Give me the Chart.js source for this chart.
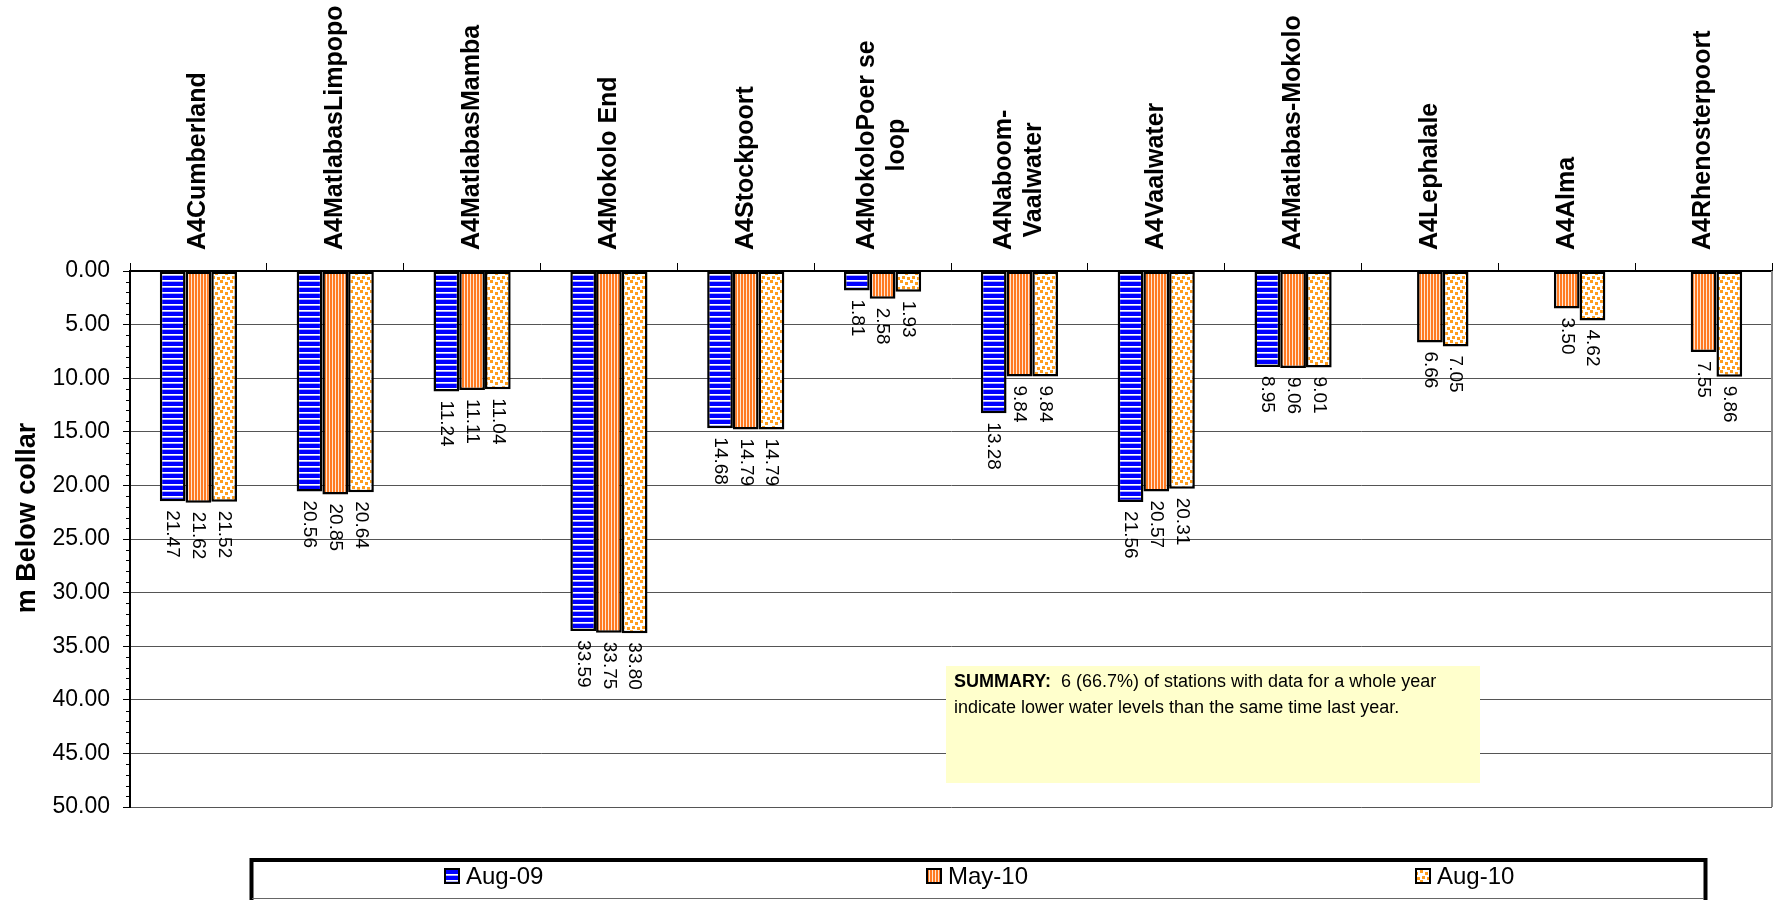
<!DOCTYPE html>
<html>
<head>
<meta charset="utf-8">
<script src="https://cdn.jsdelivr.net/npm/chart.js@4/dist/chart.umd.min.js"></script>
<style>
  html, body { margin: 0; padding: 0; background: #fff; }
</style>
</head>
<body>
<canvas id="myChart" width="1774" height="900"></canvas>
<script>
const stations = [
    'A4Cumberland',
    'A4MatlabasLimpopo',
    'A4MatlabasMamba',
    'A4Mokolo End',
    'A4Stockpoort',
    ['A4MokoloPoer se', 'loop'],
    ['A4Naboom-', 'Vaalwater'],
    'A4Vaalwater',
    'A4Matlabas-Mokolo',
    'A4Lephalale',
    'A4Alma',
    'A4Rhenosterpoort'
];
const seriesNames = ['Aug-09', 'May-10', 'Aug-10'];
const aug09 = [21.47, 20.56, 11.24, 33.59, 14.68, 1.81, 13.28, 21.56, 8.95, null, null, null];
const may10 = [21.62, 20.85, 11.11, 33.75, 14.79, 2.58, 9.84, 20.57, 9.06, 6.66, 3.50, 7.55];
const aug10 = [21.52, 20.64, 11.04, 33.80, 14.79, 1.93, 9.84, 20.31, 9.01, 7.05, 4.62, 9.86];
const yMin = 0, yMax = 50, yStep = 5;
const summaryBold = 'SUMMARY:';
const summaryLines = ['  6 (66.7%) of stations with data for a whole year',
                      'indicate lower water levels than the same time last year.'];

const FONT = '"Liberation Sans", Arial, sans-serif';

window.onload = function () {
    const ctx = document.getElementById('myChart').getContext('2d');

    function makePattern(w, h, draw) {
        const c = document.createElement('canvas');
        c.width = w; c.height = h;
        const g = c.getContext('2d');
        draw(g);
        return ctx.createPattern(c, 'repeat');
    }

    // blue with white horizontal stripes
    const patBlue = makePattern(6, 6, g => {
        g.fillStyle = '#0000ff'; g.fillRect(0, 0, 6, 6);
        g.fillStyle = '#ffffff'; g.fillRect(0, 4, 6, 1);
        g.fillStyle = '#b0b0ff'; g.fillRect(0, 5, 6, 1);
    });
    // orange with thin white vertical lines
    const patOrange = makePattern(3, 3, g => {
        g.fillStyle = '#ff7a22'; g.fillRect(0, 0, 3, 3);
        g.fillStyle = '#ffe6d2'; g.fillRect(2, 0, 1, 3);
    });
    // white with orange dots
    const patDots = makePattern(10, 10, g => {
        g.fillStyle = '#ffffff'; g.fillRect(0, 0, 10, 10);
        g.fillStyle = '#ff9c1a';
        g.fillRect(0, 0, 3, 3);
        g.fillRect(5, 2, 3, 3);
        g.fillRect(2, 6, 3, 3);
        g.fillRect(7, 7, 3, 3);
    });
    const patterns = [patBlue, patOrange, patDots];

    const data = {
        labels: stations,
        datasets: [aug09, may10, aug10].map((vals, i) => ({
            label: seriesNames[i],
            data: vals,
            backgroundColor: patterns[i],
            borderColor: '#000',
            borderWidth: 2.5,
            borderSkipped: false,
            categoryPercentage: 0.564,
            barPercentage: 1.0
        }))
    };

    const decorations = {
        id: 'decorations',
        afterDatasetsDraw(chart) {
            const c = chart.ctx;
            // value labels, rotated, below bar ends
            c.save();
            c.fillStyle = '#000';
            c.font = '19px ' + FONT;
            chart.data.datasets.forEach((ds, di) => {
                const meta = chart.getDatasetMeta(di);
                meta.data.forEach((bar, i) => {
                    const v = ds.data[i];
                    if (v === null) return;
                    c.save();
                    c.translate(bar.x, bar.y + 9);
                    c.rotate(Math.PI / 2);
                    c.textAlign = 'left';
                    c.textBaseline = 'middle';
                    c.fillText(v.toFixed(2), 0, 0);
                    c.restore();
                });
            });
            c.restore();
        },
        afterDraw(chart) {
            const c = chart.ctx;
            const area = chart.chartArea;
            const xs = chart.scales.x;
            const ys = chart.scales.y;

            // right border of plot
            c.save();
            c.strokeStyle = '#888';
            c.lineWidth = 2;
            c.beginPath();
            c.moveTo(area.right, area.top);
            c.lineTo(area.right, area.bottom);
            c.stroke();

            // minor ticks on y axis
            c.strokeStyle = '#000';
            c.lineWidth = 1;
            for (let v = yMin; v <= yMax; v += 1) {
                if (v % yStep === 0) continue;
                const py = Math.round(ys.getPixelForValue(v)) + 0.5;
                c.beginPath();
                c.moveTo(area.left - 4, py);
                c.lineTo(area.left, py);
                c.stroke();
            }

            // category labels (rotated, at top)
            c.fillStyle = '#000';
            c.font = 'bold 25px ' + FONT;
            stations.forEach((lab, i) => {
                const lines = Array.isArray(lab) ? lab : [lab];
                const x = xs.getPixelForValue(i);
                const maxW = Math.max(...lines.map(l => c.measureText(l).width));
                lines.forEach((l, j) => {
                    const cx = x + (j - (lines.length - 1) / 2) * 30;
                    const cy = 250 - maxW / 2;
                    c.save();
                    c.translate(cx, cy);
                    c.rotate(-Math.PI / 2);
                    c.textAlign = 'center';
                    c.textBaseline = 'middle';
                    c.fillText(l, 0, 0);
                    c.restore();
                });
            });

            // y axis title
            c.save();
            c.font = 'bold 27px ' + FONT;
            c.translate(28, 518);
            c.rotate(-Math.PI / 2);
            c.textAlign = 'center';
            c.textBaseline = 'middle';
            c.fillText('m Below collar', 0, 0);
            c.restore();

            // summary box
            c.fillStyle = '#ffffcc';
            c.fillRect(946, 666, 534, 117);
            c.fillStyle = '#000';
            c.textAlign = 'left';
            c.textBaseline = 'alphabetic';
            c.font = 'bold 18px ' + FONT;
            c.fillText(summaryBold, 954, 687);
            const bw = c.measureText(summaryBold).width;
            c.font = '18px ' + FONT;
            c.fillText(summaryLines[0], 954 + bw, 687);
            c.fillText(summaryLines[1], 954, 713);

            // legend
            c.fillStyle = '#fff';
            c.fillRect(250, 858, 1457, 42);
            c.strokeStyle = '#000';
            c.lineWidth = 4;
            c.beginPath();
            c.moveTo(251.5, 900);
            c.lineTo(251.5, 860);
            c.lineTo(1705.5, 860);
            c.lineTo(1705.5, 900);
            c.stroke();
            c.strokeStyle = '#666';
            c.lineWidth = 1;
            c.beginPath();
            c.moveTo(252, 898.5);
            c.lineTo(1704, 898.5);
            c.stroke();
            const legendX = [444, 926, 1415];
            c.font = '24px ' + FONT;
            c.textBaseline = 'middle';
            seriesNames.forEach((name, i) => {
                const lx = legendX[i];
                c.fillStyle = patterns[i];
                c.fillRect(lx, 868, 16, 16);
                c.strokeStyle = '#000';
                c.lineWidth = 2;
                c.strokeRect(lx + 1, 869, 14, 14);
                c.fillStyle = '#000';
                c.fillText(name, lx + 22, 877);
            });
            c.restore();
        }
    };

    const myChart = new Chart(ctx, {
        type: 'bar',
        data,
        options: {
            responsive: false,
            animation: false,
            devicePixelRatio: 1,
            layout: { padding: { top: 0, left: 0, right: 2, bottom: 93 } },
            plugins: {
                legend: { display: false },
                tooltip: { enabled: false }
            },
            scales: {
                x: {
                    position: 'top',
                    offset: true,
                    grid: {
                        offset: true,
                        drawOnChartArea: false,
                        drawTicks: true,
                        tickLength: 8,
                        color: '#000'
                    },
                    border: { color: '#000', width: 2 },
                    ticks: { display: false },
                    afterFit: s => { s.height = 271; }
                },
                y: {
                    reverse: true,
                    min: yMin,
                    max: yMax,
                    afterFit: s => { s.width = 130; },
                    ticks: {
                        stepSize: yStep,
                        padding: 13,
                        color: '#000',
                        font: { family: FONT, size: 23 },
                        callback: v => v.toFixed(2)
                    },
                    grid: { color: '#555', tickLength: 7, tickColor: '#000' },
                    border: { color: '#000', width: 2 }
                }
            }
        },
        plugins: [decorations]
    });
};
</script>
</body>
</html>
